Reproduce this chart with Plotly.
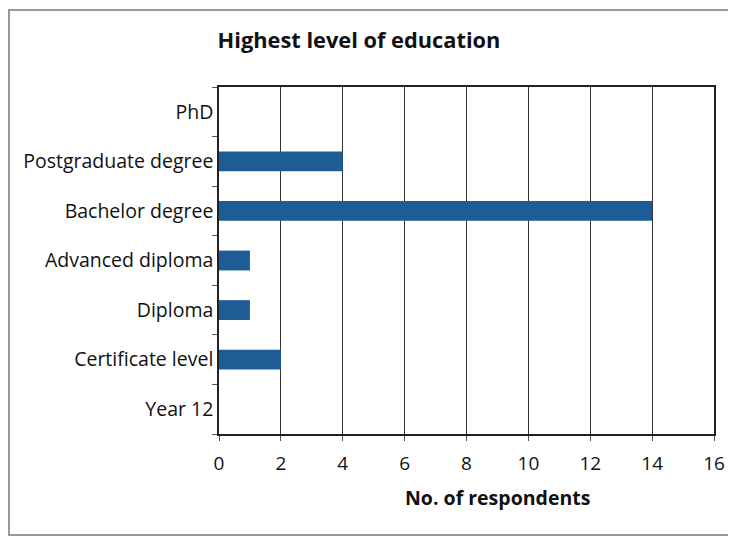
import plotly.graph_objects as go

categories = ["Year 12", "Certificate level", "Diploma", "Advanced diploma",
              "Bachelor degree", "Postgraduate degree", "PhD"]
respondents = [0, 2, 1, 1, 14, 4, 0]
x_ticks = [0, 2, 4, 6, 8, 10, 12, 14, 16]

W, H = 736, 537
OFF = 8  # page body offset in the browser
L, T = 219 - OFF, 87 - OFF
pw, ph = 495, 347
R, B = W - L - pw, H - T - ph


def px(xp):
    return (xp - OFF - L) / pw


def py(yp):
    return (T + ph - (yp - OFF)) / ph


fig = go.Figure(go.Bar(
    x=respondents, y=categories, orientation="h",
    marker=dict(color="#1d5c95", line=dict(width=0)),
))

fnt = "'Open Sans', sans-serif"
fig.update_layout(
    width=W, height=H,
    margin=dict(l=L, r=R, t=T, b=B, autoexpand=False),
    paper_bgcolor="white", plot_bgcolor="white",
    bargap=0.6, showlegend=False,
    font=dict(family=fnt, size=18, color="#111"),
    title=dict(text="<b>Highest level of education</b>", x=(359 - OFF) / W, xanchor="center",
               y=1 - (40 - OFF) / H, yanchor="middle", font=dict(size=21.8, family=fnt, color="#111")),
    xaxis=dict(range=[0, 16], tickvals=x_ticks, ticks="outside", ticklen=5,
               tickcolor="#555", showgrid=True, gridcolor="#333", gridwidth=1,
               showline=True, linecolor="#222", linewidth=1.5, mirror=True,
               zeroline=False, tickfont=dict(size=19), automargin=False,
               ticklabelstandoff=6),
    yaxis=dict(categoryorder="array", categoryarray=categories,
               ticks="outside", tickson="boundaries", ticklen=5, tickcolor="#555",
               showline=True, linecolor="#222", linewidth=1.5, mirror=True,
               showgrid=False, tickfont=dict(size=19.5), automargin=False),
)

# x-axis title (placed off-centre as in the original)
fig.add_annotation(text="<b>No. of respondents</b>", xref="paper", yref="paper",
                   x=px(497), y=py(497), xanchor="center", yanchor="middle",
                   showarrow=False, font=dict(size=19.5, family=fnt, color="#111"))

# outer frame around the figure
fig.add_shape(type="rect", xref="paper", yref="paper",
              x0=px(9), x1=(W + 5 - L) / pw,
              y0=py(535), y1=py(10),
              line=dict(color="#999", width=2), fillcolor="rgba(0,0,0,0)", layer="below")

fig.write_html("out.html")
